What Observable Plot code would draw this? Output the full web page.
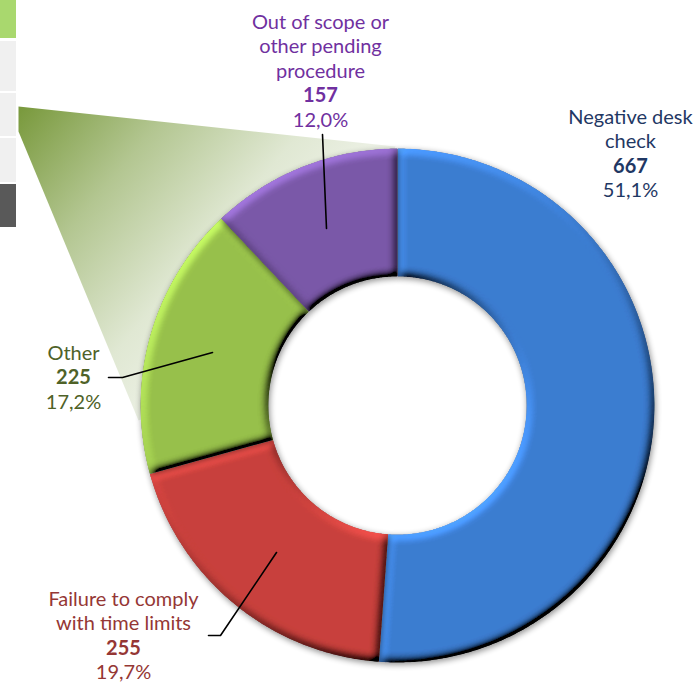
<!DOCTYPE html>
<html>
<head>
<meta charset="utf-8">
<script src="https://cdn.jsdelivr.net/npm/d3@7"></script>
<script src="https://cdn.jsdelivr.net/npm/@observablehq/plot@0.6"></script>
<style>
  html, body { margin: 0; padding: 0; background: #fff; }
  #chart svg { display: block; }
</style>
</head>
<body>
<div id="chart"></div>
<script>
// ---- data ----
const categories = ["Negative desk check", "Failure to comply with time limits", "Other", "Out of scope or other pending procedure"];
const values = [667, 255, 225, 157];
const percentLabels = ["51,1%", "19,7%", "17,2%", "12,0%"];
const nameLines = [["Negative desk", "check"], ["Failure to comply", "with time limits"], ["Other"], ["Out of scope or", "other pending", "procedure"]];

// ---- styles / layout ----
const sliceColors = ["#3b7cd0", "#c8403c", "#97c04a", "#7a58a8"];
const labelColors = ["#1f3864", "#953735", "#4f6228", "#7030a0"];
const W = 695, H = 682, CX = 397, CY = 405, R = 257, INNER = 0.502;
const X = px => (px - CX) / R, Y = py => (py - CY) / R;
const labelPos = [[630, 123], [123, 605], [73, 359], [320, 28]];
const lineH = 24.6;
const leaders = [null, [[208, 635], [220, 635], [276, 552]], [[108, 377], [122, 377], [212, 352]], [[322, 134], [326, 228]]];
const barSegs = [[0, 38, "#a9d86e"], [41, 91, "#f0f0f0"], [93, 136, "#f0f0f0"], [138, 182, "#f0f0f0"], [184, 227, "#595959"]];
const cone = [[18, 106], [395, 146], [330, 280], [190, 400], [138, 420], [18, 131]];

// ---- geometry from data ----
const arcs = d3.pie().sort(null).value(d => d)(values);
function slicePoly(a) {
  const pts = [];
  const n = Math.max(8, Math.ceil((a.endAngle - a.startAngle) / (Math.PI / 360)));
  for (let k = 0; k <= n; k++) {
    const t = a.startAngle + (a.endAngle - a.startAngle) * k / n;
    pts.push({x: Math.sin(t), y: -Math.cos(t)});
  }
  for (let k = n; k >= 0; k--) {
    const t = a.startAngle + (a.endAngle - a.startAngle) * k / n;
    pts.push({x: INNER * Math.sin(t), y: -INNER * Math.cos(t)});
  }
  return pts;
}

const marks = [];
marks.push(Plot.rect(barSegs, {x1: () => X(0), x2: () => X(16), y1: d => Y(d[0]), y2: d => Y(d[1]), fill: d => d[2]}));
marks.push(Plot.line(cone.map(p => ({x: X(p[0]), y: Y(p[1])})), {x: "x", y: "y", fill: "url(#coneGrad)", stroke: "none", curve: "linear-closed"}));
arcs.forEach((a, i) => {
  marks.push(Plot.line(slicePoly(a), {x: "x", y: "y", fill: sliceColors[i], stroke: "none", curve: "linear-closed"}));
});
leaders.forEach(l => {
  if (!l) return;
  marks.push(Plot.line(l.map(p => ({x: X(p[0]), y: Y(p[1])})), {x: "x", y: "y", stroke: "#000", strokeWidth: 1.6}));
});
const regular = [], bold = [];
categories.forEach((c, i) => {
  const [lx, ly] = labelPos[i];
  nameLines[i].forEach((t, k) => regular.push({t, x: X(lx), y: Y(ly + k * lineH), c: labelColors[i]}));
  const nb = nameLines[i].length;
  bold.push({t: String(values[i]), x: X(lx), y: Y(ly + nb * lineH), c: labelColors[i]});
  regular.push({t: percentLabels[i], x: X(lx), y: Y(ly + (nb + 1) * lineH), c: labelColors[i]});
});
marks.push(Plot.text(regular, {x: "x", y: "y", text: "t", fill: d => d.c, lineAnchor: "bottom", fontSize: 20, fontFamily: "Lato"}));
marks.push(Plot.text(bold, {x: "x", y: "y", text: "t", fill: d => d.c, lineAnchor: "bottom", fontSize: 20, fontWeight: "bold", fontFamily: "Lato"}));

const chart = Plot.plot({
  width: W, height: H, margin: 0,
  x: {domain: [X(0), X(W)], range: [0, W], axis: null},
  y: {domain: [Y(0), Y(H)], range: [0, H], axis: null},
  color: {type: "identity"},
  style: {background: "#fff", fontFamily: "Lato"},
  marks
});

const defs = d3.select(chart).insert("defs", ":first-child");
const g = defs.append("linearGradient").attr("id", "coneGrad").attr("gradientUnits", "userSpaceOnUse")
  .attr("x1", 20).attr("y1", 110).attr("x2", 270).attr("y2", 320);
[[0, "#7a9a3e"], [0.35, "#b3c691"], [0.7, "#e0e8d3"], [1, "#f1f4ec"]].forEach(([o, c]) => g.append("stop").attr("offset", o).attr("stop-color", c));

const f = defs.append("filter").attr("id", "bevel").attr("x", "-10%").attr("y", "-10%").attr("width", "120%").attr("height", "120%");
f.append("feGaussianBlur").attr("in", "SourceAlpha").attr("stdDeviation", 4).attr("result", "blur");
const dl = f.append("feDiffuseLighting").attr("in", "blur").attr("surfaceScale", 4).attr("diffuseConstant", 1).attr("lighting-color", "#fff").attr("result", "diff");
dl.append("feDistantLight").attr("azimuth", 235).attr("elevation", 30);
f.append("feComposite").attr("in", "SourceGraphic").attr("in2", "diff").attr("operator", "arithmetic").attr("k1", 2).attr("k2", 0).attr("k3", 0).attr("k4", 0).attr("result", "lit");
f.append("feComposite").attr("in", "lit").attr("in2", "SourceAlpha").attr("operator", "in").attr("result", "litc");
f.append("feGaussianBlur").attr("in", "SourceAlpha").attr("stdDeviation", 3).attr("result", "sb");
f.append("feOffset").attr("in", "sb").attr("dx", 1).attr("dy", 2).attr("result", "so");
f.append("feComponentTransfer").attr("in", "so").attr("result", "sh").append("feFuncA").attr("type", "linear").attr("slope", 0.45);
const m = f.append("feMerge");
m.append("feMergeNode").attr("in", "sh");
m.append("feMergeNode").attr("in", "litc");

const svg = d3.select(chart);
sliceColors.forEach(c => {
  svg.selectAll("g").filter(function () { return this.getAttribute("fill") === c; }).attr("filter", "url(#bevel)");
});
document.getElementById("chart").appendChild(chart);
</script>
</body>
</html>
